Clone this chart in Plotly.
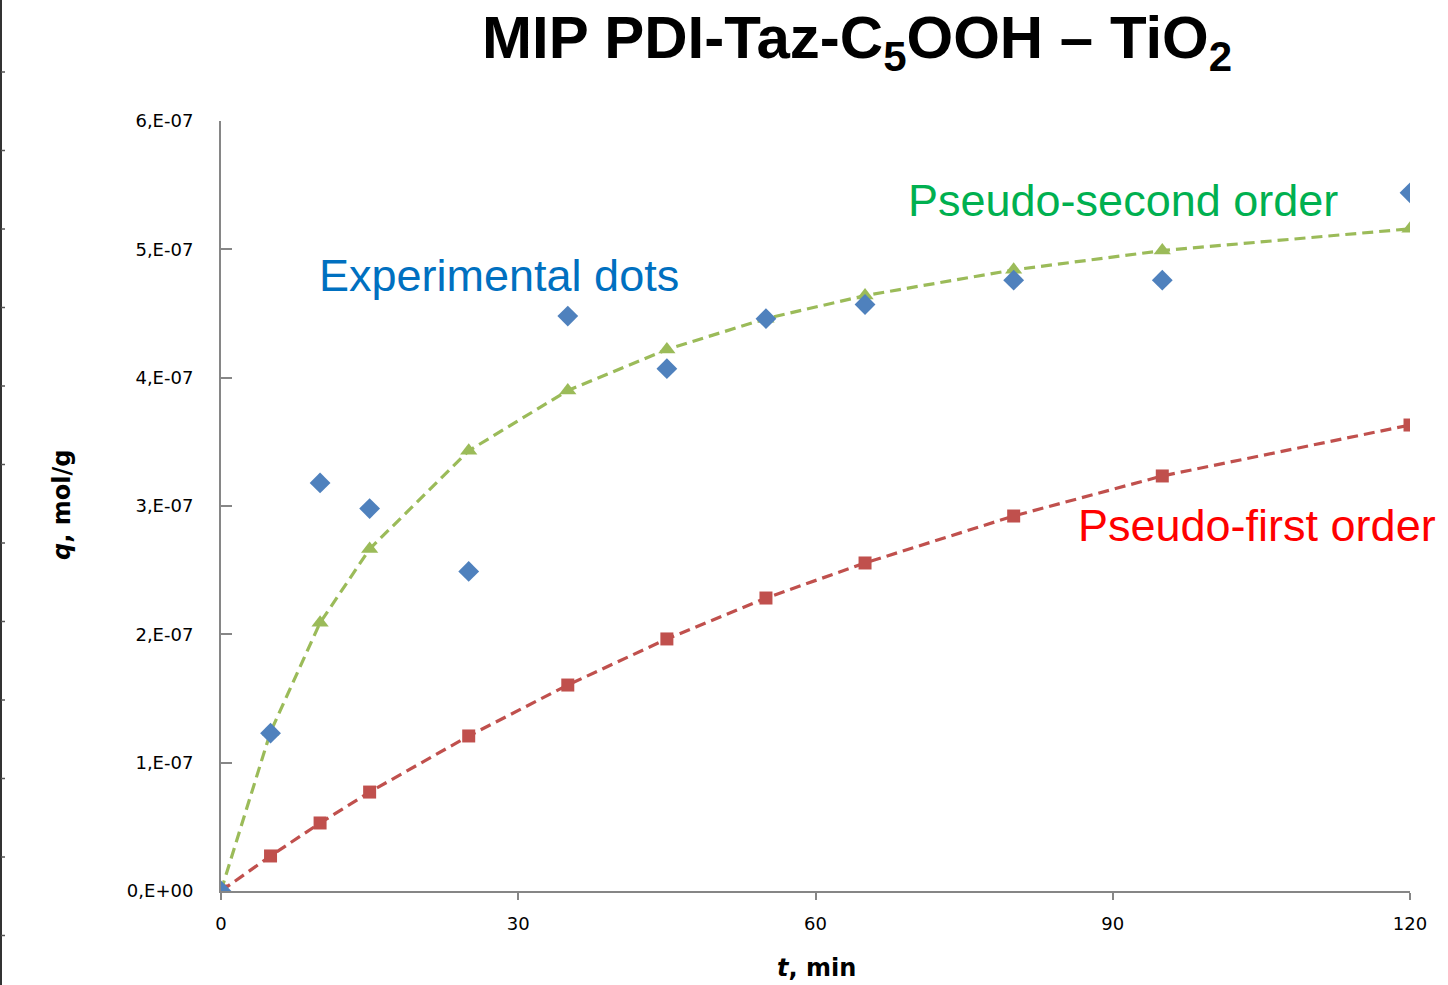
import plotly.graph_objects as go

# ---- data ----
t_min = [0, 5, 10, 15, 25, 35, 45, 55, 65, 80, 95, 120]
q_experimental = [0, 1.23e-7, 3.18e-7, 2.98e-7, 2.49e-7, 4.48e-7, 4.07e-7, 4.46e-7, 4.57e-7, 4.76e-7, 4.76e-7, 5.44e-7]
q_pseudo_second = [0, 1.24e-7, 2.09e-7, 2.665e-7, 3.43e-7, 3.90e-7, 4.22e-7, 4.46e-7, 4.64e-7, 4.84e-7, 4.99e-7, 5.16e-7]
q_pseudo_first = [0, 0.273e-7, 0.53e-7, 0.771e-7, 1.208e-7, 1.605e-7, 1.964e-7, 2.283e-7, 2.556e-7, 2.922e-7, 3.234e-7, 3.631e-7]

x_ticks = [0, 30, 60, 90, 120]
y_ticks = [0, 1e-7, 2e-7, 3e-7, 4e-7, 5e-7, 6e-7]
y_tick_labels = ["0,E+00", "1,E-07", "2,E-07", "3,E-07", "4,E-07", "5,E-07", "6,E-07"]

W, H = 1448, 985
L, R, T, B = 221, 38, 121, 94
PW, PH = W - L - R, H - T - B


def px(x):
    return (x - L) / PW


def py(y):
    return (H - B - y) / PH


fig = go.Figure()

fig.add_trace(go.Scatter(
    x=t_min, y=q_pseudo_second, mode="lines+markers", name="Pseudo-second order",
    line=dict(color="#9BBB59", width=3.2, dash="11px,6px"),
    marker=dict(symbol="triangle-up", size=15, color="#9BBB59"),
))
fig.add_trace(go.Scatter(
    x=t_min, y=q_pseudo_first, mode="lines+markers", name="Pseudo-first order",
    line=dict(color="#C0504D", width=3.2, dash="11px,6px"),
    marker=dict(symbol="square", size=13, color="#C0504D"),
))
fig.add_trace(go.Scatter(
    x=t_min, y=q_experimental, mode="markers", name="Experimental dots",
    marker=dict(symbol="diamond", size=16, color="#4F81BD"),
))

axis_font = dict(family="DejaVu Sans", size=18, color="#000000")

fig.update_xaxes(
    range=[0, 120], tickvals=x_ticks, ticktext=[str(v) for v in x_ticks],
    showline=True, linecolor="#868686", linewidth=2, ticks="outside",
    ticklen=7, tickwidth=2, tickcolor="#868686", showgrid=False, zeroline=False,
    tickfont=axis_font, ticklabelstandoff=8,
)
fig.update_yaxes(
    range=[0, 6e-7], tickvals=y_ticks, ticktext=y_tick_labels,
    showline=True, linecolor="#868686", linewidth=2, ticks="inside",
    ticklen=11, tickwidth=2, tickcolor="#868686", showgrid=False, zeroline=False,
    tickfont=axis_font, ticklabelstandoff=22,
)

annotations = [
    dict(text="MIP PDI-Taz-C<sub>5</sub>OOH – TiO<sub>2</sub>", x=px(857), y=py(42),
         font=dict(family="Liberation Sans", size=60, color="#000000"), bold=True),
    dict(text="Experimental dots", x=px(499), y=py(275),
         font=dict(family="Liberation Sans", size=45, color="#0070C0")),
    dict(text="Pseudo-second order", x=px(1123), y=py(200),
         font=dict(family="Liberation Sans", size=45, color="#00B050")),
    dict(text="Pseudo-first order", x=px(1257), y=py(525),
         font=dict(family="Liberation Sans", size=45, color="#FF0000")),
    dict(text="<i>t</i>, min", x=px(816), y=py(968),
         font=dict(family="DejaVu Sans", size=24, color="#000000"), bold=True),
    dict(text="<i>q</i>, mol/g", x=px(62), y=py(505), textangle=-90,
         font=dict(family="DejaVu Sans", size=24, color="#000000"), bold=True),
]
anns = []
for a in annotations:
    bold = a.pop("bold", False)
    if bold:
        a["text"] = "<b>" + a["text"] + "</b>"
    a.update(xref="paper", yref="paper", showarrow=False, xanchor="center", yanchor="middle")
    anns.append(a)

# screenshot edge artifact: dark line with small ticks at left border
shapes = [dict(type="line", xref="paper", yref="paper", x0=px(1), x1=px(1), y0=py(0), y1=py(985),
               line=dict(color="#333333", width=2))]
yy = 72
while yy < 985:
    shapes.append(dict(type="line", xref="paper", yref="paper", x0=px(1), x1=px(5), y0=py(yy), y1=py(yy),
                       line=dict(color="#555555", width=1.5)))
    yy += 78.5

fig.update_layout(
    width=W, height=H, margin=dict(l=L, r=R, t=T, b=B),
    paper_bgcolor="white", plot_bgcolor="white", showlegend=False,
    annotations=anns, shapes=shapes,
)

fig.write_html("out.html")
